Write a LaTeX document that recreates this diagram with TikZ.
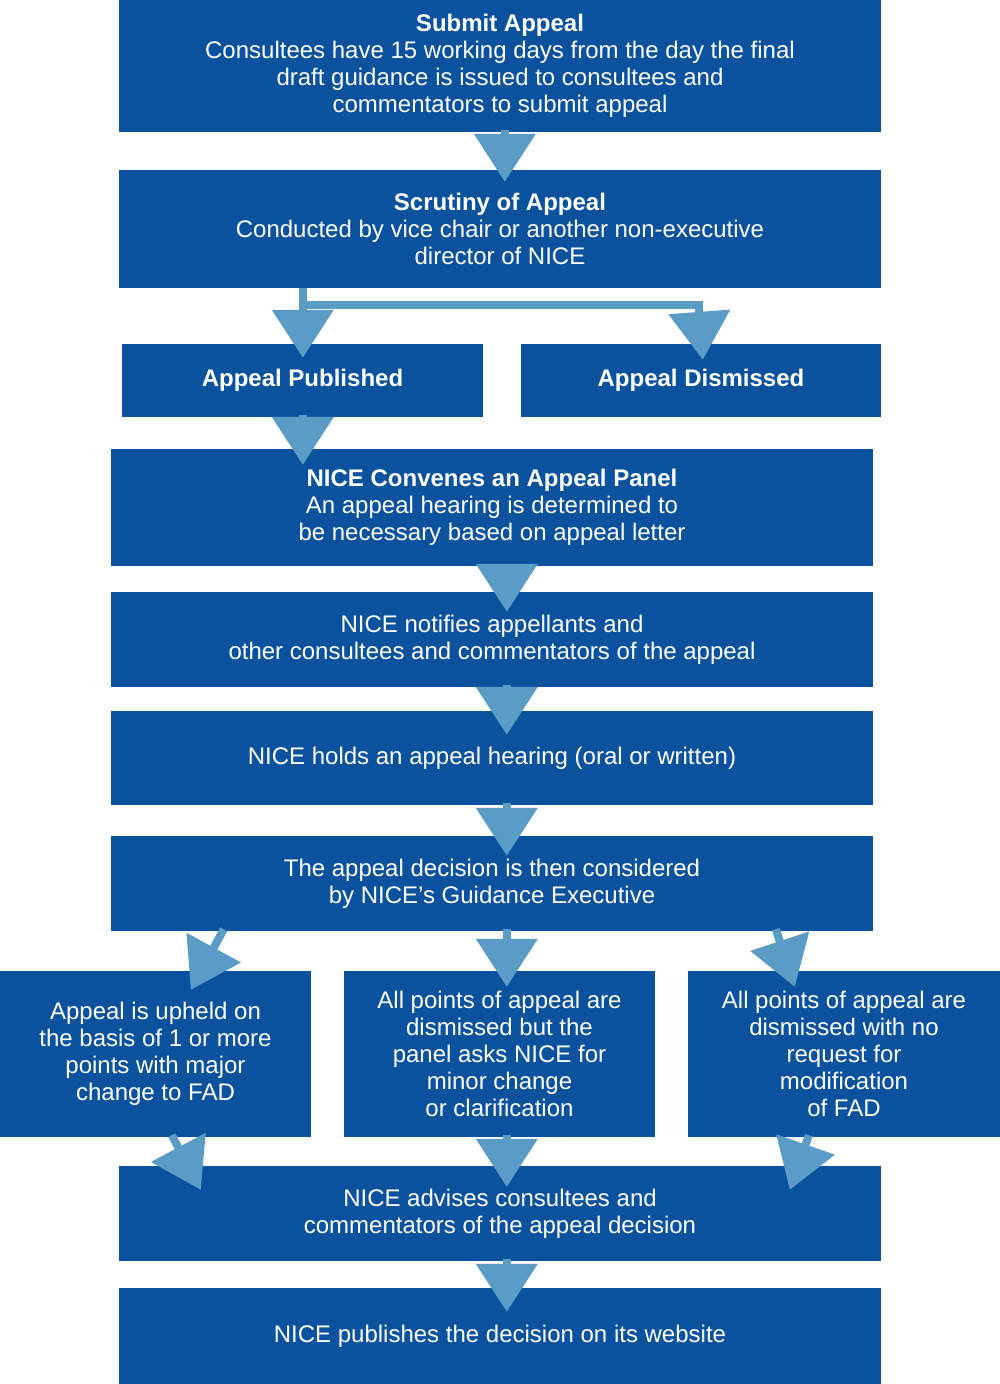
\documentclass[tikz,border=0pt]{standalone}
\usepackage{fontspec}
\setmainfont{Liberation Sans}
\usetikzlibrary{arrows.meta,calc}
\definecolor{boxblue}{HTML}{0A519E}
\definecolor{arrblue}{HTML}{5A9CC6}
\tikzset{
  box/.style={fill=boxblue,text=white,align=center,inner sep=0pt,
    font=\fontsize{24}{27}\selectfont},
  arr/.style={draw=arrblue,line width=8pt,-{Triangle[width=60pt,length=48pt]},color=arrblue},
  ln/.style={draw=arrblue,line width=8pt}
}
\newcommand{\bx}[6]{\node[box,minimum width={#4-#2},minimum height={#5-#3}] (#1) at ({(#2+#4)/2},{(#3+#5)/2}) {#6};}
\begin{document}
\begin{tikzpicture}[x=1pt,y=-1pt]
\useasboundingbox[fill=white] (0,0) rectangle (1000,1384);
\bx{b1}{119}{0}{881}{132}{\textbf{Submit Appeal}\\Consultees have 15 working days from the day the final\\draft guidance is issued to consultees and\\commentators to submit appeal}
\bx{b2}{119}{170}{881}{288}{\textbf{Scrutiny of Appeal}\\Conducted by vice chair or another non-executive\\director of NICE}
\bx{b3}{122}{344}{483}{417}{\textbf{Appeal Published}}
\bx{b4}{521}{344}{881}{417}{\textbf{Appeal Dismissed}}
\bx{b5}{111}{449}{873}{566}{\textbf{NICE Convenes an Appeal Panel}\\An appeal hearing is determined to\\be necessary based on appeal letter}
\bx{b6}{111}{592}{873}{687}{NICE notifies appellants and\\other consultees and commentators of the appeal}
\bx{b7}{111}{711}{873}{805}{NICE holds an appeal hearing (oral or written)}
\bx{b8}{111}{836}{873}{931}{The appeal decision is then considered\\by NICE's Guidance Executive}
\bx{b9}{0}{971}{311}{1137}{Appeal is upheld on\\the basis of 1 or more\\points with major\\change to FAD}
\bx{b10}{344}{971}{655}{1137}{All points of appeal are\\dismissed but the\\panel asks NICE for\\minor change\\or clarification}
\bx{b11}{688}{971}{1000}{1137}{All points of appeal are\\dismissed with no\\request for\\modification\\of FAD}
\bx{b12}{119}{1166}{881}{1261}{NICE advises consultees and\\commentators of the appeal decision}
\bx{b13}{119}{1288}{881}{1384}{NICE publishes the decision on its website}
% connectors
\draw[arr] ($(b1.south west)+(386,-2)$) -- ($(b2.north west)+(386,12)$);
\coordinate (j1) at ($(b2.south west)+(184,17)$);
\coordinate (j2) at ($(b2.south west)+(584,17)$);
\draw[ln] ($(b2.south west)+(184,0)$) -- (j1) -- (j2);
\draw[arr] (j1) -- ($(b3.north west)+(181,14)$);
\draw[arr] ([xshift=-4pt]j2) -- ($(b4.north west)+(182,16)$);
\draw[arr] ($(b3.south west)+(181,-2)$) -- ($(b5.north west)+(192,16)$);
\draw[arr] ($(b5.south west)+(396,-2)$) -- ($(b6.north west)+(396,20)$);
\draw[arr] ($(b6.south west)+(396,-2)$) -- ($(b7.north west)+(396,24)$);
\draw[arr] ($(b7.south west)+(396,-2)$) -- ($(b8.north west)+(396,20)$);
\draw[arr] ($(b8.south west)+(113,-2)$) -- ($(b9.north west)+(191,19)$);
\draw[arr] ($(b8.south west)+(396,-2)$) -- ($(b10.north west)+(163,16)$);
\draw[arr] ($(b8.south west)+(665,-2)$) -- ($(b11.north west)+(107,16)$);
\draw[arr] ($(b9.south west)+(172,-2)$) -- ($(b12.north west)+(82,24)$);
\draw[arr] ($(b10.south west)+(163,-2)$) -- ($(b12.north west)+(388,21)$);
\draw[arr] ($(b11.south west)+(121,-2)$) -- ($(b12.north west)+(671,24)$);
\draw[arr] ($(b12.south west)+(388,-2)$) -- ($(b13.north west)+(388,24)$);
\end{tikzpicture}
\end{document}
